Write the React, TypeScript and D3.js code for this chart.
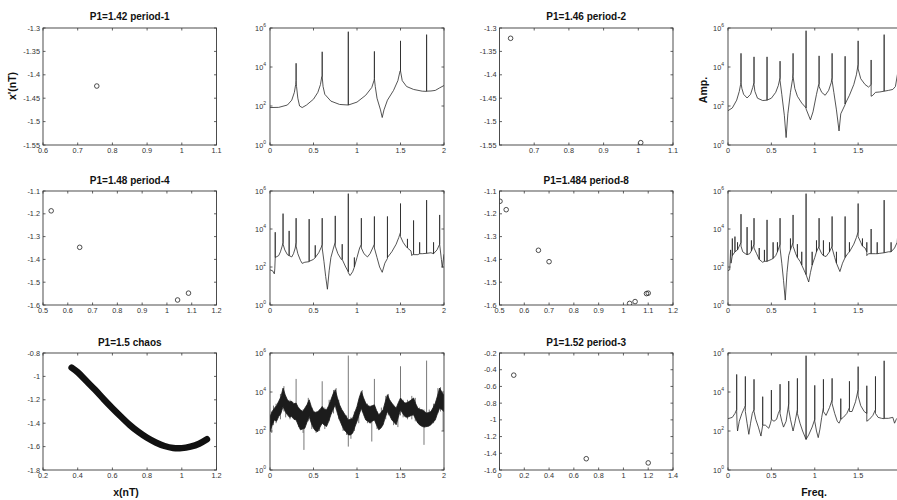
import React from "react";
import * as d3 from "d3";

type P2 = [number, number];
type P3 = [number, number, number];

const FONT = "'Liberation Sans', Arial, Helvetica, sans-serif";

// ---------- Poincaré section data (x(nT), x'(nT)) ----------
const p142X = [0.755];
const p142Y = [-1.424];
const p146X = [0.632, 1.007];
const p146Y = [-1.322, -1.545];
const p148X = [0.533, 0.648, 1.043, 1.087];
const p148Y = [-1.187, -1.347, -1.578, -1.548];
const p1484X = [0.502, 0.527, 0.657, 0.7, 1.025, 1.047, 1.093, 1.1];
const p1484Y = [-1.145, -1.182, -1.36, -1.41, -1.593, -1.585, -1.55, -1.548];
const p152X = [0.115, 0.7, 1.2];
const p152Y = [-0.465, -1.465, -1.515];
// chaos attractor centre line (x, x')
const chaosCurve: P2[] = [
  [0.365, -0.925], [0.4, -0.965], [0.45, -1.04], [0.5, -1.115], [0.55, -1.195], [0.6, -1.272],
  [0.65, -1.345], [0.7, -1.415], [0.75, -1.475], [0.8, -1.525], [0.85, -1.565], [0.9, -1.595],
  [0.95, -1.612], [1.0, -1.613], [1.05, -1.6], [1.1, -1.575], [1.145, -1.537],
];

// ---------- Spectra: [freq, log10(Amp)] ----------
const spec142: P2[] = [
  [0, 1.92], [0.1, 1.93], [0.2, 2.05], [0.25, 2.3], [0.28, 2.7], [0.295, 3.1], [0.3, 3.3], [0.3, 4.19], [0.3, 3.3],
  [0.305, 3.0], [0.32, 2.4], [0.34, 2.0], [0.37, 1.92], [0.42, 2.05], [0.5, 2.35], [0.55, 2.7], [0.58, 3.1],
  [0.595, 3.5], [0.6, 3.5], [0.6, 4.78], [0.6, 3.5], [0.61, 3.0], [0.63, 2.6], [0.7, 2.25], [0.8, 2.08],
  [0.9, 2.05], [0.9, 5.81], [0.9, 2.05], [1.0, 2.2], [1.1, 2.55], [1.17, 2.95], [1.195, 3.3], [1.2, 3.4],
  [1.2, 4.8], [1.2, 3.4], [1.21, 3.0], [1.23, 2.4], [1.27, 1.8], [1.29, 1.41], [1.31, 1.8], [1.35, 2.3],
  [1.42, 2.8], [1.47, 3.3], [1.495, 3.8], [1.5, 3.8], [1.5, 5.34], [1.5, 3.8], [1.52, 3.3], [1.57, 3.0],
  [1.65, 2.85], [1.75, 2.76], [1.8, 2.75], [1.8, 5.66], [1.8, 2.76], [1.85, 2.77], [1.9, 2.8], [1.95, 2.93], [2.0, 3.05],
];
const spec146: P2[] = [
  [0, 1.76], [0.05, 1.9], [0.1, 2.3], [0.13, 2.75], [0.145, 3.1], [0.15, 3.2], [0.15, 4.7], [0.15, 3.2], [0.16, 2.9],
  [0.18, 2.6], [0.22, 2.41], [0.26, 2.6], [0.285, 2.95], [0.3, 3.2], [0.3, 4.52], [0.3, 3.1], [0.31, 2.75],
  [0.34, 2.4], [0.4, 2.28], [0.45, 2.3], [0.45, 4.52], [0.45, 2.3], [0.5, 2.4], [0.55, 2.7], [0.58, 3.05],
  [0.6, 3.45], [0.6, 4.3], [0.6, 3.3], [0.62, 2.6], [0.65, 1.5], [0.67, 0.38], [0.69, 1.6], [0.72, 2.7],
  [0.745, 3.4], [0.75, 3.7], [0.75, 4.7], [0.75, 3.5], [0.77, 2.9], [0.8, 2.5], [0.85, 2.15], [0.9, 1.9],
  [0.9, 5.86], [0.9, 1.85], [0.95, 1.29], [0.98, 1.7], [1.02, 2.6], [1.045, 3.1], [1.05, 3.14], [1.05, 4.57],
  [1.05, 3.0], [1.08, 2.7], [1.12, 2.55], [1.16, 2.8], [1.19, 3.2], [1.2, 3.45], [1.2, 4.7], [1.2, 3.3],
  [1.22, 2.7], [1.25, 1.8], [1.28, 0.72], [1.3, 1.6], [1.35, 2.07], [1.35, 4.55], [1.35, 2.1], [1.4, 2.55],
  [1.45, 3.1], [1.48, 3.6], [1.5, 4.14], [1.5, 5.34], [1.5, 3.9], [1.53, 3.4], [1.58, 3.1], [1.62, 2.97],
  [1.65, 3.1], [1.65, 4.36], [1.65, 2.5], [1.67, 2.55], [1.7, 2.7], [1.75, 2.72], [1.8, 2.76], [1.8, 5.66],
  [1.8, 2.76], [1.85, 2.8], [1.9, 2.85], [1.93, 3.0], [1.96, 3.8],
];
const spec148: P2[] = [
  [0, 1.85], [0.03, 1.8], [0.05, 1.64], [0.055, 1.9], [0.06, 2.5], [0.06, 3.83], [0.06, 2.5], [0.08, 2.55],
  [0.1, 2.6], [0.12, 2.8], [0.14, 3.1], [0.15, 3.28], [0.15, 4.81], [0.15, 3.2], [0.17, 2.9], [0.2, 2.65],
  [0.22, 2.6], [0.22, 3.9], [0.22, 2.6], [0.25, 2.53], [0.27, 2.7], [0.29, 3.0], [0.3, 3.3], [0.3, 4.57],
  [0.3, 3.1], [0.32, 2.7], [0.35, 2.35], [0.37, 2.19], [0.4, 2.25], [0.45, 2.28], [0.45, 4.52], [0.45, 2.3],
  [0.5, 2.4], [0.52, 2.5], [0.52, 3.14], [0.52, 2.5], [0.56, 2.75], [0.59, 3.05], [0.6, 3.19], [0.6, 4.57],
  [0.6, 3.0], [0.62, 2.3], [0.64, 1.5], [0.66, 0.83], [0.68, 1.8], [0.7, 2.5], [0.73, 3.0], [0.75, 3.31],
  [0.75, 4.69], [0.75, 3.1], [0.78, 2.7], [0.82, 2.4], [0.83, 2.4], [0.83, 3.2], [0.83, 2.4], [0.87, 2.0],
  [0.9, 1.75], [0.9, 5.86], [0.9, 1.7], [0.92, 1.55], [0.95, 1.75], [0.97, 2.0], [0.97, 2.5], [0.97, 2.0],
  [1.0, 2.5], [1.03, 3.0], [1.05, 3.19], [1.05, 4.57], [1.05, 3.0], [1.08, 2.7], [1.12, 2.53], [1.15, 2.7],
  [1.18, 3.0], [1.2, 3.2], [1.2, 4.66], [1.2, 3.0], [1.23, 2.5], [1.26, 2.0], [1.29, 1.72], [1.32, 2.2],
  [1.35, 2.45], [1.35, 4.66], [1.35, 2.5], [1.4, 2.8], [1.45, 3.2], [1.48, 3.55], [1.5, 3.83], [1.5, 5.34],
  [1.5, 3.6], [1.53, 3.3], [1.56, 3.1], [1.58, 3.0], [1.58, 3.48], [1.58, 3.0], [1.62, 2.85], [1.63, 2.6],
  [1.65, 2.7], [1.65, 4.45], [1.65, 2.65], [1.7, 2.65], [1.72, 2.7], [1.72, 3.3], [1.72, 2.7], [1.75, 2.7],
  [1.8, 2.72], [1.8, 5.52], [1.8, 2.72], [1.85, 2.75], [1.88, 2.7], [1.88, 3.3], [1.88, 2.7], [1.92, 2.9],
  [1.95, 3.2], [1.95, 4.74], [1.95, 3.2], [1.97, 2.4], [1.98, 1.98], [2.0, 2.67],
];
const spec1484: P2[] = [
  [0, 1.81], [0.02, 1.85], [0.03, 2.9], [0.035, 2.2], [0.05, 2.6], [0.05, 3.5], [0.05, 2.6], [0.08, 2.8],
  [0.08, 3.6], [0.08, 2.8], [0.11, 2.9], [0.11, 3.3], [0.11, 2.9], [0.13, 3.1], [0.15, 3.3], [0.15, 4.78],
  [0.15, 3.1], [0.17, 2.8], [0.2, 2.7], [0.22, 2.65], [0.22, 4.1], [0.22, 2.65], [0.25, 2.7], [0.27, 2.85],
  [0.27, 3.4], [0.27, 2.85], [0.3, 3.2], [0.3, 4.57], [0.3, 3.0], [0.33, 2.7], [0.36, 2.4], [0.36, 3.0],
  [0.36, 2.4], [0.4, 2.25], [0.42, 2.3], [0.42, 2.9], [0.42, 2.3], [0.45, 2.3], [0.45, 4.48], [0.45, 2.3],
  [0.5, 2.4], [0.52, 2.45], [0.52, 3.3], [0.52, 2.45], [0.55, 2.6], [0.57, 2.8], [0.57, 3.3], [0.57, 2.8],
  [0.6, 3.2], [0.6, 4.57], [0.6, 3.0], [0.62, 2.2], [0.64, 1.3], [0.66, 0.26], [0.68, 1.7], [0.7, 2.6],
  [0.72, 2.9], [0.72, 3.5], [0.72, 2.9], [0.75, 3.3], [0.75, 4.74], [0.75, 3.1], [0.78, 2.7], [0.8, 2.5],
  [0.8, 3.2], [0.8, 2.5], [0.83, 2.3], [0.85, 2.1], [0.85, 2.8], [0.85, 2.1], [0.88, 1.8], [0.9, 1.6],
  [0.9, 5.86], [0.9, 1.6], [0.93, 1.21], [0.95, 1.7], [0.97, 2.1], [0.97, 2.8], [0.97, 2.1], [1.0, 2.5],
  [1.02, 2.8], [1.02, 3.4], [1.02, 2.8], [1.05, 3.1], [1.05, 4.57], [1.05, 3.0], [1.08, 2.7], [1.1, 2.6],
  [1.1, 3.4], [1.1, 2.6], [1.13, 2.55], [1.17, 2.8], [1.17, 3.3], [1.17, 2.8], [1.2, 3.1], [1.2, 4.66],
  [1.2, 3.0], [1.23, 2.5], [1.25, 2.2], [1.25, 2.8], [1.25, 2.2], [1.29, 1.76], [1.32, 2.2], [1.35, 2.5],
  [1.35, 4.66], [1.35, 2.5], [1.38, 2.7], [1.4, 2.8], [1.4, 3.3], [1.4, 2.8], [1.45, 3.2], [1.48, 3.55],
  [1.5, 3.85], [1.5, 5.34], [1.5, 3.6], [1.53, 3.3], [1.55, 3.1], [1.55, 3.5], [1.55, 3.1], [1.58, 3.0],
  [1.6, 2.8], [1.6, 3.3], [1.6, 2.6], [1.62, 2.7], [1.65, 2.7], [1.65, 4.0], [1.65, 2.7], [1.7, 2.7],
  [1.72, 2.7], [1.72, 3.3], [1.72, 2.7], [1.75, 2.72], [1.8, 2.75], [1.8, 5.52], [1.8, 2.75], [1.85, 2.8],
  [1.88, 2.8], [1.88, 3.3], [1.88, 2.8], [1.92, 3.0], [1.95, 3.3], [1.96, 3.9],
];
const spec152: P2[] = [
  [0, 2.63], [0.05, 2.7], [0.08, 2.9], [0.1, 3.1], [0.1, 4.9], [0.1, 3.0], [0.105, 2.3], [0.11, 2.0],
  [0.13, 2.5], [0.16, 2.9], [0.19, 3.2], [0.2, 3.3], [0.2, 4.8], [0.2, 3.0], [0.22, 2.4], [0.24, 1.83],
  [0.26, 2.4], [0.28, 2.9], [0.3, 3.1], [0.3, 4.65], [0.3, 3.0], [0.32, 2.6], [0.35, 2.2], [0.38, 1.74],
  [0.4, 2.3], [0.4, 3.76], [0.4, 2.3], [0.43, 2.3], [0.47, 2.14], [0.49, 2.4], [0.5, 2.6], [0.5, 4.1],
  [0.5, 2.6], [0.53, 2.5], [0.56, 2.6], [0.58, 2.9], [0.6, 3.1], [0.6, 4.4], [0.6, 2.9], [0.62, 2.5],
  [0.64, 2.2], [0.67, 2.5], [0.7, 3.4], [0.7, 4.56], [0.7, 3.1], [0.72, 2.6], [0.75, 2.0], [0.77, 2.4],
  [0.8, 3.1], [0.8, 4.7], [0.8, 2.9], [0.83, 2.4], [0.86, 2.0], [0.9, 1.57], [0.9, 5.86], [0.9, 1.57],
  [0.93, 1.8], [0.97, 2.2], [1.0, 2.6], [1.0, 4.34], [1.0, 2.5], [1.02, 2.0], [1.04, 1.66], [1.06, 2.1],
  [1.08, 2.7], [1.1, 3.2], [1.1, 4.65], [1.1, 3.0], [1.13, 2.8], [1.17, 3.2], [1.2, 3.6], [1.2, 4.7],
  [1.2, 3.4], [1.23, 2.9], [1.26, 2.5], [1.28, 2.4], [1.3, 2.6], [1.3, 3.66], [1.3, 2.6], [1.33, 2.7],
  [1.37, 2.9], [1.4, 3.2], [1.4, 4.55], [1.4, 3.0], [1.43, 3.0], [1.47, 3.5], [1.5, 4.12], [1.5, 5.3],
  [1.5, 3.8], [1.53, 3.3], [1.57, 3.0], [1.6, 2.9], [1.6, 4.32], [1.6, 2.5], [1.63, 2.6], [1.67, 2.8],
  [1.7, 3.1], [1.7, 4.8], [1.7, 2.9], [1.73, 2.7], [1.77, 2.65], [1.8, 2.63], [1.8, 5.6], [1.8, 2.65],
  [1.85, 2.65], [1.9, 2.7], [1.92, 2.4], [1.94, 2.6], [1.96, 2.7],
];
// chaos spectrum: noisy band [freq, lowerLog, upperLog]
const chaosBand: P3[] = [
  [0, 1.97, 2.74], [0.025, 2.3, 3.0], [0.05, 2.57, 3.17], [0.075, 2.5, 3.3], [0.1, 2.74, 3.52], [0.125, 2.9, 3.75],
  [0.15, 3.26, 4.2], [0.175, 3.0, 3.85], [0.2, 2.83, 3.6], [0.225, 2.7, 3.5], [0.25, 2.74, 3.52], [0.275, 2.6, 3.4],
  [0.3, 2.57, 3.43], [0.325, 2.3, 3.2], [0.35, 2.06, 3.09], [0.375, 2.1, 3.0], [0.4, 2.14, 3.17], [0.425, 2.45, 3.35],
  [0.45, 2.74, 3.6], [0.475, 2.4, 3.25], [0.5, 2.14, 3.0], [0.525, 2.0, 2.95], [0.55, 1.97, 3.0], [0.575, 2.2, 3.1],
  [0.6, 2.4, 3.26], [0.625, 2.3, 3.1], [0.65, 2.23, 3.09], [0.675, 2.5, 3.3], [0.7, 2.83, 3.6], [0.725, 3.1, 3.9],
  [0.75, 3.34, 4.12], [0.775, 2.9, 3.7], [0.8, 2.57, 3.34], [0.825, 2.3, 3.1], [0.85, 2.06, 2.92], [0.875, 1.95, 2.75],
  [0.9, 1.8, 2.57], [0.925, 1.8, 2.6], [0.95, 1.89, 2.66], [0.975, 2.2, 2.95], [1.0, 2.49, 3.26], [1.025, 2.85, 3.7],
  [1.05, 3.17, 4.03], [1.075, 2.85, 3.7], [1.1, 2.57, 3.43], [1.125, 2.5, 3.3], [1.15, 2.4, 3.26], [1.175, 2.5, 3.3],
  [1.2, 2.57, 3.34], [1.225, 2.3, 3.05], [1.25, 2.06, 2.83], [1.275, 2.15, 2.95], [1.3, 2.32, 3.09], [1.325, 2.7, 3.5],
  [1.35, 3.0, 3.86], [1.375, 2.8, 3.6], [1.4, 2.57, 3.43], [1.425, 2.45, 3.3], [1.45, 2.32, 3.17], [1.475, 2.7, 3.45],
  [1.5, 3.09, 3.69], [1.525, 2.9, 3.55], [1.55, 2.74, 3.43], [1.575, 2.7, 3.45], [1.6, 2.74, 3.52], [1.625, 2.8, 3.6],
  [1.65, 2.83, 3.69], [1.675, 2.6, 3.4], [1.7, 2.4, 3.17], [1.725, 2.3, 3.1], [1.75, 2.23, 3.09], [1.775, 2.2, 3.0],
  [1.8, 2.23, 2.92], [1.825, 2.25, 2.95], [1.85, 2.32, 3.0], [1.875, 2.45, 3.2], [1.9, 2.57, 3.43], [1.925, 2.9, 3.8],
  [1.95, 3.17, 4.2], [1.975, 3.1, 4.0], [2.0, 3.0, 3.86],
];
// chaos spectrum: excursions [freq, lowLog, highLog]
const chaosSpikes: P3[] = [
  [0.02, 1.9, 3.0], [0.04, 2.3, 3.3], [0.07, 2.4, 3.4], [0.12, 2.6, 3.9], [0.16, 3.0, 4.3], [0.18, 2.7, 3.7],
  [0.23, 2.6, 3.6], [0.3, 2.6, 4.67], [0.33, 2.2, 3.2], [0.38, 1.9, 3.1], [0.39, 1.03, 2.5], [0.44, 2.5, 3.7],
  [0.48, 2.1, 3.2], [0.53, 1.9, 3.0], [0.57, 2.0, 3.1], [0.6, 2.4, 4.55], [0.63, 2.1, 3.2], [0.68, 2.5, 3.6],
  [0.73, 2.9, 4.1], [0.76, 3.1, 4.2], [0.79, 2.6, 3.6], [0.84, 2.0, 3.0], [0.88, 1.8, 2.8], [0.9, 1.2, 5.87],
  [0.93, 1.6, 2.7], [0.97, 2.0, 3.0], [1.02, 2.4, 3.5], [1.06, 3.0, 4.1], [1.12, 2.4, 3.4], [1.17, 1.46, 3.2],
  [1.2, 2.6, 4.67], [1.23, 2.1, 3.0], [1.28, 2.2, 3.2], [1.33, 2.6, 3.8], [1.36, 2.8, 3.9], [1.42, 2.3, 3.3],
  [1.47, 2.2, 3.2], [1.5, 2.8, 5.32], [1.53, 2.7, 3.6], [1.58, 2.6, 3.6], [1.63, 2.6, 3.8], [1.67, 2.5, 3.7],
  [1.72, 2.3, 3.2], [1.77, 1.29, 3.1], [1.8, 2.2, 5.61], [1.83, 2.3, 3.1], [1.88, 2.4, 3.4], [1.93, 2.9, 4.2],
  [1.96, 3.0, 4.25], [1.99, 2.0, 3.6],
];

// ---------- tick values & labels ----------
const xt142 = [0.6, 0.7, 0.8, 0.9, 1.0, 1.1];
const xl142 = ["0.6", "0.7", "0.8", "0.9", "1", "1.1"];
const xt146 = [0.7, 0.8, 0.9, 1.0, 1.1];
const xl146 = ["0.7", "0.8", "0.9", "1", "1.1"];
const yt14 = [-1.55, -1.5, -1.45, -1.4, -1.35, -1.3];
const yl14 = ["-1.55", "-1.5", "-1.45", "-1.4", "-1.35", "-1.3"];
const xt148 = [0.5, 0.6, 0.7, 0.8, 0.9, 1.0, 1.1, 1.2];
const xl148 = ["0.5", "0.6", "0.7", "0.8", "0.9", "1", "1.1", "1.2"];
const yt148 = [-1.6, -1.5, -1.4, -1.3, -1.2, -1.1];
const yl148 = ["-1.6", "-1.5", "-1.4", "-1.3", "-1.2", "-1.1"];
const xt15 = [0.2, 0.4, 0.6, 0.8, 1.0, 1.2];
const xl15 = ["0.2", "0.4", "0.6", "0.8", "1", "1.2"];
const yt15 = [-1.8, -1.6, -1.4, -1.2, -1.0, -0.8];
const yl15 = ["-1.8", "-1.6", "-1.4", "-1.2", "-1", "-0.8"];
const xt152 = [0, 0.2, 0.4, 0.6, 0.8, 1.0, 1.2, 1.4];
const xl152 = ["0", "0.2", "0.4", "0.6", "0.8", "1", "1.2", "1.4"];
const yt152 = [-1.6, -1.4, -1.2, -1.0, -0.8, -0.6, -0.4, -0.2];
const yl152 = ["-1.6", "-1.4", "-1.2", "-1", "-0.8", "-0.6", "-0.4", "-0.2"];
const xtSpec = [0, 0.5, 1, 1.5, 2];
const xlSpec = ["0", "0.5", "1", "1.5", "2"];
const ytSpec = [1, 1e2, 1e4, 1e6];
const ylSpecExp = ["0", "2", "4", "6"];

const titles = [
  "P1=1.42 period-1", "P1=1.46 period-2", "P1=1.48 period-4",
  "P1=1.484 period-8", "P1=1.5 chaos", "P1=1.52 period-3",
];

// ---------- layout ----------
const W = 897;
const ROWS: [number, number][] = [[28, 145], [191, 305], [353, 470]];
const COLS: [number, number][] = [[43, 216.5], [270, 444], [499.5, 673], [728, 901.5]];
const TITLE_Y = [19.5, 184, 346];
const TICK = 2.5;
const BOX = "#3a3a3a";
const LBL = "#333";

type FrameProps = {
  id: string; x0: number; x1: number; y0: number; y1: number;
  sx: (v: number) => number; sy: (v: number) => number;
  xTicks: number[]; xLabels: string[]; yTicks: number[]; yLabels?: string[]; yExp?: string[];
  children?: React.ReactNode;
};

function Frame(p: FrameProps) {
  const { x0, x1, y0, y1, sx, sy } = p;
  return (
    <g>
      <defs>
        <clipPath id={p.id}>
          <rect x={x0} y={y0} width={x1 - x0} height={y1 - y0} />
        </clipPath>
      </defs>
      <rect x={x0} y={y0} width={x1 - x0} height={y1 - y0} fill="#fff" />
      <g clipPath={`url(#${p.id})`}>{p.children}</g>
      <rect x={x0} y={y0} width={x1 - x0} height={y1 - y0} fill="none" stroke={BOX} strokeWidth={0.9} />
      {p.xTicks.map((t, i) => {
        const x = sx(t);
        const labelFits = x + 6 < W;
        return (
          <g key={"x" + i}>
            <line x1={x} x2={x} y1={y1} y2={y1 - TICK} stroke={BOX} strokeWidth={0.8} />
            <line x1={x} x2={x} y1={y0} y2={y0 + TICK} stroke={BOX} strokeWidth={0.8} />
            {labelFits && (
              <text x={x} y={y1 + 8} textAnchor="middle" fontSize={7.3} fill={LBL} fontFamily={FONT}>
                {p.xLabels[i]}
              </text>
            )}
          </g>
        );
      })}
      {p.yTicks.map((t, i) => {
        const y = sy(t);
        return (
          <g key={"y" + i}>
            <line x1={x0} x2={x0 + TICK} y1={y} y2={y} stroke={BOX} strokeWidth={0.8} />
            <line x1={x1} x2={x1 - TICK} y1={y} y2={y} stroke={BOX} strokeWidth={0.8} />
            {p.yExp ? (
              <text x={x0 - 4} y={y + 2.6} textAnchor="end" fontSize={7.3} fill={LBL} fontFamily={FONT}>
                10<tspan dy={-3.6} fontSize={5}>{p.yExp[i]}</tspan>
              </text>
            ) : (
              <text x={x0 - 3} y={y + 2.6} textAnchor="end" fontSize={7.3} fill={LBL} fontFamily={FONT}>
                {p.yLabels![i]}
              </text>
            )}
          </g>
        );
      })}
    </g>
  );
}

type ScatterDef = {
  row: number; col: number; title: string; xd: [number, number]; yd: [number, number];
  xt: number[]; xl: string[]; yt: number[]; yl: string[]; xs: number[]; ys: number[]; band?: P2[];
};

const scatterDefs: ScatterDef[] = [
  { row: 0, col: 0, title: titles[0], xd: [0.6, 1.1], yd: [-1.55, -1.3], xt: xt142, xl: xl142, yt: yt14, yl: yl14, xs: p142X, ys: p142Y },
  { row: 0, col: 2, title: titles[1], xd: [0.6, 1.1], yd: [-1.55, -1.3], xt: xt146, xl: xl146, yt: yt14, yl: yl14, xs: p146X, ys: p146Y },
  { row: 1, col: 0, title: titles[2], xd: [0.5, 1.2], yd: [-1.6, -1.1], xt: xt148, xl: xl148, yt: yt148, yl: yl148, xs: p148X, ys: p148Y },
  { row: 1, col: 2, title: titles[3], xd: [0.5, 1.2], yd: [-1.6, -1.1], xt: xt148, xl: xl148, yt: yt148, yl: yl148, xs: p1484X, ys: p1484Y },
  { row: 2, col: 0, title: titles[4], xd: [0.2, 1.2], yd: [-1.8, -0.8], xt: xt15, xl: xl15, yt: yt15, yl: yl15, xs: [], ys: [], band: chaosCurve },
  { row: 2, col: 2, title: titles[5], xd: [0, 1.4], yd: [-1.6, -0.2], xt: xt152, xl: xl152, yt: yt152, yl: yl152, xs: p152X, ys: p152Y },
];

type SpecDef = { row: number; col: number; data?: P2[]; chaos?: boolean };
const specDefs: SpecDef[] = [
  { row: 0, col: 1, data: spec142 },
  { row: 0, col: 3, data: spec146 },
  { row: 1, col: 1, data: spec148 },
  { row: 1, col: 3, data: spec1484 },
  { row: 2, col: 1, chaos: true },
  { row: 2, col: 3, data: spec152 },
];

function Scatter({ d, idx }: { d: ScatterDef; idx: number }) {
  const [x0, x1] = COLS[d.col];
  const [y0, y1] = ROWS[d.row];
  const sx = d3.scaleLinear().domain(d.xd).range([x0, x1]);
  const sy = d3.scaleLinear().domain(d.yd).range([y1, y0]);
  const bandLine = d3.line<P2>().x((p) => sx(p[0])).y((p) => sy(p[1])).curve(d3.curveCatmullRom);
  return (
    <g>
      <Frame id={"sc" + idx} x0={x0} x1={x1} y0={y0} y1={y1} sx={sx} sy={sy}
        xTicks={d.xt} xLabels={d.xl} yTicks={d.yt} yLabels={d.yl}>
        {d.xs.map((x, i) => (
          <circle key={i} cx={sx(x)} cy={sy(d.ys[i])} r={2.3} fill="none" stroke="#222" strokeWidth={0.8} />
        ))}
        {d.band && (
          <path d={bandLine(d.band) || ""} fill="none" stroke="#111" strokeWidth={6.5} strokeLinecap="round" strokeLinejoin="round" />
        )}
      </Frame>
      <text x={(x0 + x1) / 2} y={TITLE_Y[d.row]} textAnchor="middle" fontSize={10} fontWeight="bold" fill="#111" fontFamily={FONT}>
        {d.title}
      </text>
    </g>
  );
}

function Spectrum({ d, idx }: { d: SpecDef; idx: number }) {
  const [x0, x1] = COLS[d.col];
  const [y0, y1] = ROWS[d.row];
  const sx = d3.scaleLinear().domain([0, 2]).range([x0, x1]);
  const sy = d3.scaleLog().domain([1, 1e6]).range([y1, y0]);
  const line = d3.line<P2>().x((p) => sx(p[0])).y((p) => sy(Math.pow(10, p[1])));
  const area = d3.area<P3>()
    .x((p) => sx(p[0]))
    .y0((p) => sy(Math.pow(10, p[1])))
    .y1((p) => sy(Math.pow(10, p[2])));
  return (
    <Frame id={"sp" + idx} x0={x0} x1={x1} y0={y0} y1={y1} sx={sx} sy={sy}
      xTicks={xtSpec} xLabels={xlSpec} yTicks={ytSpec} yExp={ylSpecExp}>
      {d.data && <path d={line(d.data) || ""} fill="none" stroke="#2a2a2a" strokeWidth={0.8} />}
      {d.chaos && (
        <g>
          {chaosSpikes.map((s, i) => (
            <line key={i} x1={sx(s[0])} x2={sx(s[0])} y1={sy(Math.pow(10, s[1]))} y2={sy(Math.pow(10, s[2]))}
              stroke="#555" strokeWidth={0.8} />
          ))}
          <path d={area(chaosBand) || ""} fill="#1c1c1c" stroke="#1c1c1c" strokeWidth={0.8} strokeLinejoin="bevel" />
        </g>
      )}
    </Frame>
  );
}

export default function App() {
  return (
    <svg width={897} height={500} viewBox="0 0 897 500"
      style={{ position: "absolute", left: 0, top: 0, display: "block", background: "#fff" }}>
      <rect x={0} y={0} width={897} height={500} fill="#fff" />
      {scatterDefs.map((d, i) => <Scatter key={"s" + i} d={d} idx={i} />)}
      {specDefs.map((d, i) => <Spectrum key={"p" + i} d={d} idx={i} />)}
      <text transform="translate(16,86) rotate(-90)" textAnchor="middle" fontSize={10.5} fontWeight="bold" fill="#111" fontFamily={FONT}>
        x'(nT)
      </text>
      <text transform="translate(707,90) rotate(-90)" textAnchor="middle" fontSize={10.5} fontWeight="bold" fill="#111" fontFamily={FONT}>
        Amp.
      </text>
      <text x={126} y={496} textAnchor="middle" fontSize={10.5} fontWeight="bold" fill="#111" fontFamily={FONT}>
        x(nT)
      </text>
      <text x={814} y={496} textAnchor="middle" fontSize={10.5} fontWeight="bold" fill="#111" fontFamily={FONT}>
        Freq.
      </text>
    </svg>
  );
}
